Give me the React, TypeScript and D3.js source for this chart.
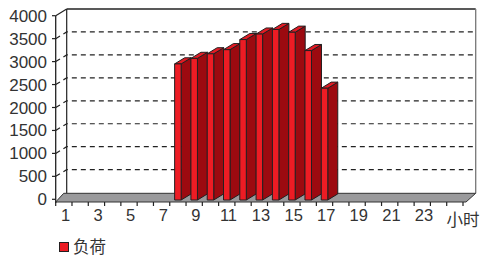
import React from "react";
import * as d3 from "d3";

const hours = ["1","2","3","4","5","6","7","8","9","10","11","12","13","14","15","16","17","18","19","20","21","22","23","24"];
const load = [0,0,0,0,0,0,0,2950,3070,3170,3260,3480,3600,3700,3640,3240,2420,0,0,0,0,0,0,0];
const yTicks = [0,500,1000,1500,2000,2500,3000,3500,4000];
const seriesName = "负荷";
const axisTitle = "小时";

const W = 483, H = 257;
const DX = 11, DY = 6.7;       // full depth offset
const BDX = 10, BDY = 6.1;     // bar depth offset
const FONT = "'Liberation Sans', Arial, sans-serif";

export default function App() {
  const slots = [...hours, "_end"];
  const x = d3.scaleBand<string>().domain(slots).range([55.7, 463]).paddingInner(0).paddingOuter(0);
  const y = d3.scaleLinear().domain([0, 4000]).range([199.3, 15.7]);
  const bw = x.bandwidth() / 2.5;
  const left = x.range()[0], right = x.range()[1];
  const floorY = 202;

  const bars = hours.map((h, i) => ({ h, v: load[i] })).filter(d => d.v > 0);

  return (
    <svg width={W} height={H} style={{ position: "absolute", left: 0, top: 0, background: "#fff" }}>
      {/* back wall */}
      <rect x={left + DX} y={y(4000) - DY} width={right - left + 1} height={y(0) - y(4000)} fill="#fff" />
      {/* side wall */}
      <polygon points={`${left},${y(4000)} ${left + DX},${y(4000) - DY} ${left + DX},${floorY - DY - 2} ${left},${floorY}`} fill="#fff" />
      {/* gridlines */}
      {yTicks.filter(t => t > 0 && t < 4000).map(t => (
        <path key={t} d={`M${left},${y(t)} L${left + DX},${y(t) - DY} L${right + DX + 1.7},${y(t) - DY}`}
          fill="none" stroke="#222" strokeWidth={1.2} strokeDasharray="5,4" />
      ))}
      {/* wall borders */}
      <line x1={left + DX} x2={right + DX + 1.7} y1={y(4000) - DY} y2={y(4000) - DY} stroke="#222" strokeWidth={1.5} />
      <line x1={right + DX + 1.7} x2={right + DX + 1.7} y1={y(4000) - DY} y2={floorY - 8.7} stroke="#777" strokeWidth={1.3} />
      <line x1={left + DX} x2={left + DX} y1={y(4000) - DY} y2={floorY - 8.7} stroke="#222" strokeWidth={1.2} />
      <line x1={left} x2={left + DX} y1={y(4000)} y2={y(4000) - DY} stroke="#222" strokeWidth={1.2} />
      {/* floor */}
      <polygon points={`${left},${floorY} ${left + 8},${floorY - 8.7} ${right + DX + 1.7},${floorY - 8.7} ${right + 3},${floorY}`}
        fill="#9a9a9c" stroke="#333" strokeWidth={1} />
      {/* bars */}
      {bars.map(d => {
        const cx = (x(d.h) as number) + x.bandwidth() / 2;
        const x0 = cx - bw / 2, x1 = cx + bw / 2;
        const yt = y(d.v), yb = 200;
        return (
          <g key={d.h} stroke="#231f20" strokeWidth={1} strokeLinejoin="round">
            <polygon points={`${x1},${yt} ${x1 + BDX},${yt - BDY} ${x1 + BDX},${yb - BDY} ${x1},${yb}`} fill="#9c0a10" />
            <polygon points={`${x0},${yt} ${x0 + BDX},${yt - BDY} ${x1 + BDX},${yt - BDY} ${x1},${yt}`} fill="#e01b24" />
            <rect x={x0} y={yt} width={bw} height={yb - yt} fill="#ed1c24" />
          </g>
        );
      })}
      {/* y axis */}
      <line x1={left} x2={left} y1={y(4000)} y2={floorY + 1} stroke="#222" strokeWidth={1.3} />
      {yTicks.map(t => (
        <g key={t}>
          <line x1={left - 3.7} x2={left} y1={y(t)} y2={y(t)} stroke="#222" strokeWidth={1.2} />
          <text x={47} y={y(t) + 6} textAnchor="end" fontFamily={FONT} fontSize={17} fill="#333">{t}</text>
        </g>
      ))}
      {/* x axis ticks */}
      {slots.map((s, i) => (
        <line key={s} x1={(x(s) as number) + (i === 0 ? 0 : 0)} x2={x(s) as number} y1={floorY} y2={floorY + 4} stroke="#222" strokeWidth={1.2} />
      ))}
      <line x1={right} x2={right} y1={floorY} y2={floorY + 4} stroke="#222" strokeWidth={1.2} />
      {hours.map((h, i) => i % 2 === 0 ? (
        <text key={h} x={(x(h) as number) + x.bandwidth() / 2 + 1.7} y={221} textAnchor="middle" fontFamily={FONT} fontSize={16.5} fill="#333">{h}</text>
      ) : null)}
      <text x={463} y={226} textAnchor="middle" fontFamily="'Noto Sans CJK SC', sans-serif" fontSize={16.5} fill="#333">{axisTitle}</text>
      {/* legend */}
      <rect x={59.5} y={242.5} width={9} height={9} fill="#ed1c24" stroke="#231f20" strokeWidth={1} />
      <text x={73} y={252.5} fontFamily="'Noto Sans CJK SC', sans-serif" fontSize={16.5} fill="#333">{seriesName}</text>
    </svg>
  );
}
